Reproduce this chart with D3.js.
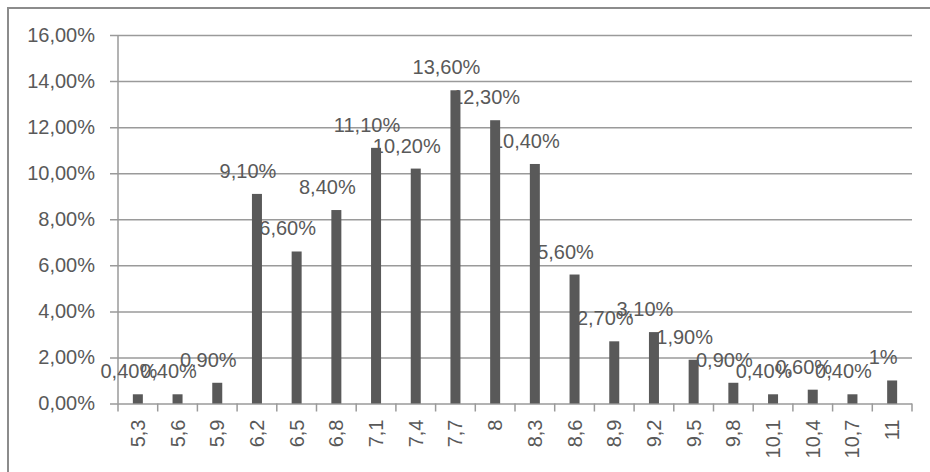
<!DOCTYPE html>
<html>
<head>
<meta charset="utf-8">
<script src="https://cdn.jsdelivr.net/npm/d3@7/dist/d3.min.js"></script>
<style>
  html, body { margin: 0; padding: 0; background: #fff; }
  svg { display: block; }
</style>
</head>
<body>
<svg id="chart" width="930" height="472"></svg>
<script>
const categories = ["5,3","5,6","5,9","6,2","6,5","6,8","7,1","7,4","7,7","8","8,3","8,6","8,9","9,2","9,5","9,8","10,1","10,4","10,7","11"];
const values = [0.4, 0.4, 0.9, 9.1, 6.6, 8.4, 11.1, 10.2, 13.6, 12.3, 10.4, 5.6, 2.7, 3.1, 1.9, 0.9, 0.4, 0.6, 0.4, 1.0];
const dataLabels = ["0,40%","0,40%","0,90%","9,10%","6,60%","8,40%","11,10%","10,20%","13,60%","12,30%","10,40%","5,60%","2,70%","3,10%","1,90%","0,90%","0,40%","0,60%","0,40%","1%"];
const yTicks = [0, 2, 4, 6, 8, 10, 12, 14, 16];
const yTickLabels = ["0,00%","2,00%","4,00%","6,00%","8,00%","10,00%","12,00%","14,00%","16,00%"];

const svg = d3.select("#chart");
const pLeft = 118, pRight = 912, pTop = 35, pBottom = 403.5;
const font = "'Liberation Sans', Arial, sans-serif";
const textColor = "#595959";
const gridColor = "#9a9a9a";

// outer frame
svg.append("rect").attr("x", 8).attr("y", 8).attr("width", 940).attr("height", 480)
  .attr("fill", "none").attr("stroke", "#8c8c8c").attr("stroke-width", 2);

const x = d3.scaleBand().domain(categories).range([pLeft, pRight]).padding(0);
const y = d3.scaleLinear().domain([0, 16]).range([pBottom, pTop]);

// gridlines + y labels
const yAxis = d3.axisLeft(y).tickValues(yTicks)
  .tickSize(-(pRight - pLeft)).tickPadding(0)
  .tickFormat((d, i) => yTickLabels[i]);
const gy = svg.append("g").attr("transform", `translate(${pLeft},0)`).call(yAxis);
gy.select(".domain").remove();
gy.selectAll(".tick line").attr("x1", -8).attr("stroke", gridColor).attr("stroke-width", 1.5);
gy.selectAll(".tick text").attr("x", -23).attr("fill", textColor)
  .style("font-family", font).style("font-size", "20px");

// vertical axis line
svg.append("line").attr("x1", pLeft).attr("x2", pLeft).attr("y1", pTop).attr("y2", pBottom)
  .attr("stroke", gridColor).attr("stroke-width", 1.5);

// x axis ticks at band boundaries
const bounds = categories.map(c => x(c)).concat([pRight]);
svg.append("g").selectAll("line").data(bounds).join("line")
  .attr("x1", d => d).attr("x2", d => d).attr("y1", pBottom).attr("y2", pBottom + 8)
  .attr("stroke", gridColor).attr("stroke-width", 1.5);

// bars
const barW = 10;
svg.append("g").selectAll("rect").data(values).join("rect")
  .attr("x", (d, i) => x(categories[i]) + x.bandwidth() / 2 - barW / 2)
  .attr("y", d => y(d))
  .attr("width", barW)
  .attr("height", d => pBottom - y(d))
  .attr("fill", "#595959");

// data labels
svg.append("g").selectAll("text").data(values).join("text")
  .attr("x", (d, i) => x(categories[i]) + x.bandwidth() / 2 - 9)
  .attr("y", d => y(d) - 16)
  .attr("text-anchor", "middle")
  .attr("fill", textColor)
  .style("font-family", font).style("font-size", "20px")
  .text((d, i) => dataLabels[i]);

// x labels rotated
svg.append("g").selectAll("text").data(categories).join("text")
  .attr("transform", d => `translate(${x(d) + x.bandwidth() / 2},${pBottom + 16}) rotate(-90)`)
  .attr("text-anchor", "end")
  .attr("dy", "0.35em")
  .attr("fill", textColor)
  .style("font-family", font).style("font-size", "20px")
  .text(d => d);
</script>
</body>
</html>
